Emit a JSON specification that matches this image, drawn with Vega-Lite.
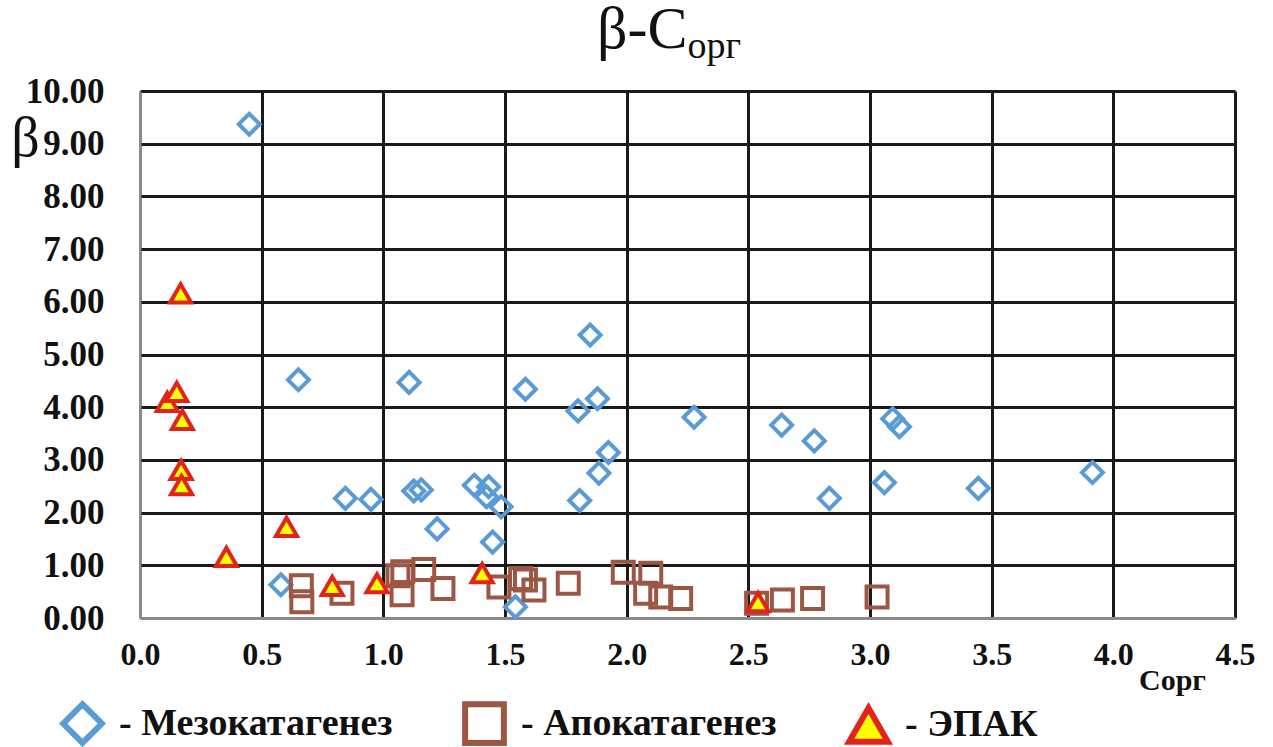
{
  "$schema": "https://vega.github.io/schema/vega-lite/v6.json",
  "autosize": {"type": "none"},
  "width": 1095,
  "height": 527,
  "padding": {"left": 140, "top": 91, "right": 38, "bottom": 129},
  "background": "white",
  "config": {
    "view": {"stroke": null},
    "font": "Liberation Serif"
  },
  "title": {
    "text": "β-C",
    "anchor": "start",
    "frame": "group",
    "dx": 457,
    "baseline": "alphabetic",
    "offset": -81,
    "font": "Liberation Serif",
    "fontSize": 60,
    "fontWeight": "normal",
    "color": "#111"
  },
  "data": {
    "values": [
      {"C": 0.449, "beta": 9.37, "group": "Мезокатагенез"},
      {"C": 0.579, "beta": 0.63, "group": "Мезокатагенез"},
      {"C": 0.651, "beta": 4.52, "group": "Мезокатагенез"},
      {"C": 0.844, "beta": 2.27, "group": "Мезокатагенез"},
      {"C": 0.949, "beta": 2.25, "group": "Мезокатагенез"},
      {"C": 1.106, "beta": 4.47, "group": "Мезокатагенез"},
      {"C": 1.125, "beta": 2.41, "group": "Мезокатагенез"},
      {"C": 1.156, "beta": 2.43, "group": "Мезокатагенез"},
      {"C": 1.221, "beta": 1.69, "group": "Мезокатагенез"},
      {"C": 1.374, "beta": 2.52, "group": "Мезокатагенез"},
      {"C": 1.424, "beta": 2.30, "group": "Мезокатагенез"},
      {"C": 1.433, "beta": 2.49, "group": "Мезокатагенез"},
      {"C": 1.449, "beta": 1.44, "group": "Мезокатагенез"},
      {"C": 1.484, "beta": 2.11, "group": "Мезокатагенез"},
      {"C": 1.543, "beta": 0.21, "group": "Мезокатагенез"},
      {"C": 1.584, "beta": 4.34, "group": "Мезокатагенез"},
      {"C": 1.800, "beta": 3.93, "group": "Мезокатагенез"},
      {"C": 1.807, "beta": 2.23, "group": "Мезокатагенез"},
      {"C": 1.850, "beta": 5.37, "group": "Мезокатагенез"},
      {"C": 1.880, "beta": 4.16, "group": "Мезокатагенез"},
      {"C": 1.886, "beta": 2.75, "group": "Мезокатагенез"},
      {"C": 1.925, "beta": 3.14, "group": "Мезокатагенез"},
      {"C": 2.277, "beta": 3.81, "group": "Мезокатагенез"},
      {"C": 2.637, "beta": 3.66, "group": "Мезокатагенез"},
      {"C": 2.771, "beta": 3.36, "group": "Мезокатагенез"},
      {"C": 2.833, "beta": 2.27, "group": "Мезокатагенез"},
      {"C": 3.059, "beta": 2.57, "group": "Мезокатагенез"},
      {"C": 3.093, "beta": 3.78, "group": "Мезокатагенез"},
      {"C": 3.121, "beta": 3.63, "group": "Мезокатагенез"},
      {"C": 3.445, "beta": 2.46, "group": "Мезокатагенез"},
      {"C": 3.914, "beta": 2.76, "group": "Мезокатагенез"},
      {"C": 0.663, "beta": 0.61, "group": "Апокатагенез"},
      {"C": 0.665, "beta": 0.31, "group": "Апокатагенез"},
      {"C": 0.830, "beta": 0.47, "group": "Апокатагенез"},
      {"C": 1.060, "beta": 0.80, "group": "Апокатагенез"},
      {"C": 1.080, "beta": 0.88, "group": "Апокатагенез"},
      {"C": 1.077, "beta": 0.44, "group": "Апокатагенез"},
      {"C": 1.166, "beta": 0.92, "group": "Апокатагенез"},
      {"C": 1.245, "beta": 0.56, "group": "Апокатагенез"},
      {"C": 1.475, "beta": 0.59, "group": "Апокатагенез"},
      {"C": 1.564, "beta": 0.75, "group": "Апокатагенез"},
      {"C": 1.584, "beta": 0.72, "group": "Апокатагенез"},
      {"C": 1.619, "beta": 0.53, "group": "Апокатагенез"},
      {"C": 1.760, "beta": 0.66, "group": "Апокатагенез"},
      {"C": 1.986, "beta": 0.87, "group": "Апокатагенез"},
      {"C": 2.078, "beta": 0.47, "group": "Апокатагенез"},
      {"C": 2.099, "beta": 0.85, "group": "Апокатагенез"},
      {"C": 2.140, "beta": 0.40, "group": "Апокатагенез"},
      {"C": 2.222, "beta": 0.37, "group": "Апокатагенез"},
      {"C": 2.534, "beta": 0.28, "group": "Апокатагенез"},
      {"C": 2.640, "beta": 0.34, "group": "Апокатагенез"},
      {"C": 2.764, "beta": 0.37, "group": "Апокатагенез"},
      {"C": 3.029, "beta": 0.40, "group": "Апокатагенез"},
      {"C": 0.112, "beta": 4.10, "group": "ЭПАК"},
      {"C": 0.151, "beta": 4.29, "group": "ЭПАК"},
      {"C": 0.167, "beta": 6.16, "group": "ЭПАК"},
      {"C": 0.169, "beta": 2.81, "group": "ЭПАК"},
      {"C": 0.171, "beta": 2.52, "group": "ЭПАК"},
      {"C": 0.174, "beta": 3.76, "group": "ЭПАК"},
      {"C": 0.355, "beta": 1.16, "group": "ЭПАК"},
      {"C": 0.602, "beta": 1.73, "group": "ЭПАК"},
      {"C": 0.790, "beta": 0.61, "group": "ЭПАК"},
      {"C": 0.974, "beta": 0.66, "group": "ЭПАК"},
      {"C": 1.406, "beta": 0.85, "group": "ЭПАК"},
      {"C": 2.540, "beta": 0.30, "group": "ЭПАК"}
    ]
  },
  "layer": [
    {
      "mark": {"type": "point", "opacity": 1, "strokeWidth": 4, "size": 440, "clip": false},
      "encoding": {
        "x": {
          "field": "C",
          "type": "quantitative",
          "scale": {"domain": [0, 4.5], "nice": false, "zero": false},
          "axis": {
            "values": [0, 0.5, 1, 1.5, 2, 2.5, 3, 3.5, 4, 4.5],
            "format": ".1f",
            "ticks": false,
            "labelFont": "Liberation Serif",
            "labelFontWeight": "bold",
            "labelFontSize": 32,
            "labelColor": "#111",
            "labelPadding": 21,
            "labelFlush": false,
            "grid": true,
            "gridColor": {"condition": {"test": "datum.value === 0", "value": "#8a8a8a"}, "value": "#1a1a1a"},
            "gridWidth": 3,
            "gridOpacity": 1,
            "domainColor": "#8a8a8a",
            "domainWidth": 2,
            "title": "Сорг",
            "titleFont": "Liberation Serif",
            "titleFontWeight": "bold",
            "titleFontSize": 30,
            "titleColor": "#111",
            "titleAlign": "center",
            "titleBaseline": "middle",
            "titleAnchor": null,
            "titleX": 1032,
            "titleY": 62
          }
        },
        "y": {
          "field": "beta",
          "type": "quantitative",
          "scale": {"domain": [0, 10], "nice": false},
          "axis": {
            "values": [0, 1, 2, 3, 4, 5, 6, 7, 8, 9, 10],
            "format": ".2f",
            "ticks": false,
            "labelFont": "Liberation Serif",
            "labelFontWeight": "bold",
            "labelFontSize": 35,
            "labelColor": "#111",
            "labelPadding": 36,
            "labelFlush": false,
            "grid": true,
            "gridColor": {"condition": {"test": "datum.value === 0", "value": "#8a8a8a"}, "value": "#1a1a1a"},
            "gridWidth": 3,
            "gridOpacity": 1,
            "domainColor": "#8a8a8a",
            "domainWidth": 2,
            "title": "β",
            "titleFont": "Liberation Serif",
            "titleFontWeight": "normal",
            "titleFontSize": 56,
            "titleColor": "#111",
            "titleAngle": 0,
            "titleAlign": "center",
            "titleBaseline": "alphabetic",
            "titleAnchor": null,
            "titleX": -115,
            "titleY": 64
          }
        },
        "shape": {
          "field": "group",
          "type": "nominal",
          "scale": {"domain": ["Мезокатагенез", "Апокатагенез", "ЭПАК"], "range": ["diamond", "square", "triangle-up"]},
          "legend": {
            "orient": "none",
            "legendX": -80,
            "legendY": 610,
            "direction": "horizontal",
            "title": null,
            "labelExpr": "'- ' + datum.label",
            "labelFont": "Liberation Serif",
            "labelFontWeight": "bold",
            "labelFontSize": 38,
            "labelColor": "#111",
            "labelOffset": 14,
            "labelLimit": 500,
            "symbolSize": 1500,
            "symbolStrokeWidth": 6,
            "symbolOpacity": 1,
            "columnPadding": 60
          }
        },
        "stroke": {
          "field": "group",
          "type": "nominal",
          "scale": {"domain": ["Мезокатагенез", "Апокатагенез", "ЭПАК"], "range": ["#5b9bd5", "#9c5644", "#e2231a"]},
          "legend": null
        },
        "fill": {
          "field": "group",
          "type": "nominal",
          "scale": {"domain": ["Мезокатагенез", "Апокатагенез", "ЭПАК"], "range": ["transparent", "transparent", "#ffff00"]},
          "legend": null
        }
      }
    },
    {
      "mark": {"type": "rule", "opacity": 0},
      "encoding": {
        "y": {
          "datum": 0,
          "type": "quantitative",
          "scale": {"domain": [0, 10], "nice": false},
          "axis": {
            "orient": "right",
            "labels": false,
            "ticks": false,
            "domain": false,
            "grid": false,
            "title": "орг",
            "titleFont": "Liberation Serif",
            "titleFontWeight": "normal",
            "titleFontSize": 38,
            "titleColor": "#111",
            "titleAngle": 0,
            "titleAlign": "left",
            "titleBaseline": "alphabetic",
            "titleAnchor": null,
            "titleX": -548,
            "titleY": -34
          }
        }
      }
    }
  ],
  "resolve": {"scale": {"y": "independent"}, "axis": {"y": "independent"}}
}
